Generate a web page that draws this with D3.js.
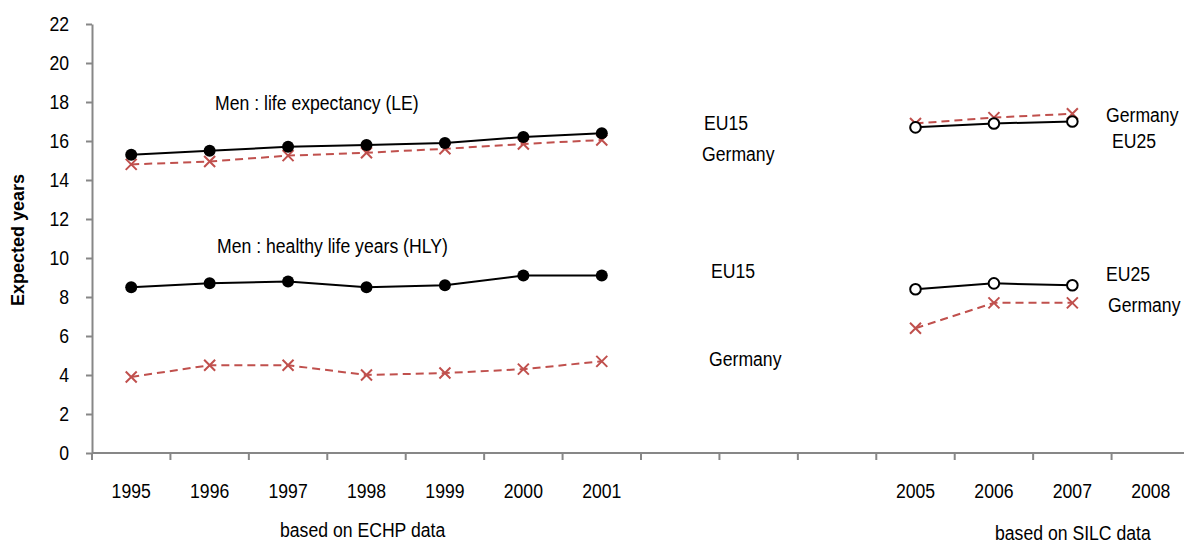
<!DOCTYPE html>
<html>
<head>
<meta charset="utf-8">
<script src="https://cdn.jsdelivr.net/npm/d3@7"></script>
<style>
html,body{margin:0;padding:0;background:#fff;}
svg{display:block;}
text{font-family:"Liberation Sans",Arial,sans-serif;}
</style>
</head>
<body>
<svg id="chart" width="1184" height="545"></svg>
<script>
const categories = ["1995","1996","1997","1998","1999","2000","2001","2002","2003","2004","2005","2006","2007","2008"];
const tickLabels = ["1995","1996","1997","1998","1999","2000","2001","","","","2005","2006","2007","2008"];
const yTicks = [0,2,4,6,8,10,12,14,16,18,20,22];
const echpYears = ["1995","1996","1997","1998","1999","2000","2001"];
const silcYears = ["2005","2006","2007"];
const eu15LE = [15.3,15.5,15.7,15.8,15.9,16.2,16.4];
const germanyLE_ECHP = [14.8,14.95,15.25,15.4,15.6,15.85,16.05];
const eu15HLY = [8.5,8.7,8.8,8.5,8.6,9.1,9.1];
const germanyHLY_ECHP = [3.9,4.5,4.5,4.0,4.1,4.3,4.7];
const eu25LE = [16.7,16.9,17.0];
const germanyLE_SILC = [16.9,17.2,17.4];
const eu25HLY = [8.4,8.7,8.6];
const germanyHLY_SILC = [6.4,7.7,7.7];

(function(){
const svg = d3.select("#chart");
const pLeft = 92, pRight = 1190, pTop = 24, pBottom = 453;
const axisColor = "#878787";
const red = "#c0504d";
const fs = "21px";
const sx = 0.84; // horizontal condensing to emulate a narrow face

const x = d3.scaleBand().domain(categories).range([pLeft, pRight]).padding(0);
const y = d3.scaleLinear().domain([0,22]).range([pBottom, pTop]);
const cx = d => x(d) + x.bandwidth()/2;

// Y axis
const yAxis = svg.append("g").attr("transform", `translate(${pLeft},0)`)
  .call(d3.axisLeft(y).tickValues(yTicks).tickSize(6).tickSizeOuter(0).tickPadding(17));
yAxis.select(".domain").attr("stroke", axisColor).attr("stroke-width", 2);
yAxis.selectAll(".tick line").attr("stroke", axisColor).attr("stroke-width", 2);
yAxis.selectAll(".tick text").attr("font-size", fs).attr("fill", "#000")
  .attr("x", -23 / sx).attr("transform", `scale(${sx},1)`);

// X axis
const xAxis = svg.append("g").attr("transform", `translate(0,${pBottom})`)
  .call(d3.axisBottom(x).tickFormat((d,i) => tickLabels[i]).tickSize(0).tickSizeOuter(0).tickPadding(30));
xAxis.select(".domain").attr("stroke", axisColor).attr("stroke-width", 2).attr("d", `M${pLeft},0H${pRight}`);
xAxis.selectAll(".tick text").attr("font-size", fs).attr("fill", "#000")
  .attr("transform", `scale(${sx},1)`);
// boundary ticks
const bounds = categories.map(c => x(c)).concat([pRight]);
svg.append("g").selectAll("line").data(bounds).join("line")
  .attr("x1", d => d).attr("x2", d => d).attr("y1", pBottom).attr("y2", pBottom + 7)
  .attr("stroke", axisColor).attr("stroke-width", 2);

function drawSeries(years, vals, opts) {
  const pts = years.map((yr,i) => [cx(yr), y(vals[i])]);
  svg.append("path").attr("d", d3.line()(pts)).attr("fill", "none")
    .attr("stroke", opts.color).attr("stroke-width", 2)
    .attr("stroke-dasharray", opts.dash || null);
  const g = svg.append("g");
  if (opts.marker === "filled") {
    g.selectAll("circle").data(pts).join("circle")
      .attr("cx", d => d[0]).attr("cy", d => d[1]).attr("r", 6).attr("fill", "#000");
  } else if (opts.marker === "open") {
    g.selectAll("circle").data(pts).join("circle")
      .attr("cx", d => d[0]).attr("cy", d => d[1]).attr("r", 5.3)
      .attr("fill", "#fff").attr("stroke", "#000").attr("stroke-width", 2);
  } else if (opts.marker === "x") {
    const s = 5.5;
    g.selectAll("path").data(pts).join("path")
      .attr("d", d => `M${d[0]-s},${d[1]-s}L${d[0]+s},${d[1]+s}M${d[0]-s},${d[1]+s}L${d[0]+s},${d[1]-s}`)
      .attr("stroke", opts.color).attr("stroke-width", 2).attr("fill", "none");
  }
}

drawSeries(echpYears, germanyLE_ECHP, {color: red, dash: "8,5", marker: "x"});
drawSeries(echpYears, eu15LE, {color: "#000", marker: "filled"});
drawSeries(echpYears, germanyHLY_ECHP, {color: red, dash: "8,5", marker: "x"});
drawSeries(echpYears, eu15HLY, {color: "#000", marker: "filled"});
drawSeries(silcYears, germanyLE_SILC, {color: red, dash: "8,5", marker: "x"});
drawSeries(silcYears, eu25LE, {color: "#000", marker: "open"});
drawSeries(silcYears, germanyHLY_SILC, {color: red, dash: "8,5", marker: "x"});
drawSeries(silcYears, eu25HLY, {color: "#000", marker: "open"});

const labels = [
  {t:"Men : life expectancy (LE)", x:215, y:110},
  {t:"Men : healthy life years (HLY)", x:217, y:253},
  {t:"EU15", x:704, y:130},
  {t:"Germany", x:702, y:161},
  {t:"EU15", x:711, y:278},
  {t:"Germany", x:709, y:366},
  {t:"Germany", x:1106, y:122},
  {t:"EU25", x:1112, y:148},
  {t:"EU25", x:1106, y:281},
  {t:"Germany", x:1108, y:312},
  {t:"based on ECHP data", x:280, y:537},
  {t:"based on SILC data", x:995, y:540}
];
svg.append("g").selectAll("text").data(labels).join("text")
  .attr("transform", d => `translate(${d.x},${d.y}) scale(${sx},1)`)
  .attr("font-size", fs).attr("fill", "#000")
  .text(d => d.t);

svg.append("text").attr("transform", "translate(24,240) rotate(-90)")
  .attr("text-anchor", "middle").attr("font-size", "18px").attr("font-weight", "bold")
  .text("Expected years");
})();
</script>
</body>
</html>
